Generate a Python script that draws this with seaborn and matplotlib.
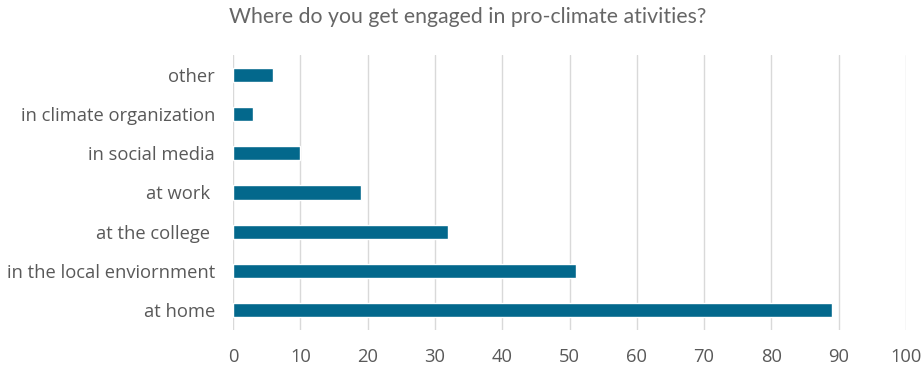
import matplotlib
matplotlib.use("Agg")
import matplotlib.pyplot as plt
import seaborn as sns
import pandas as pd

# Survey answers: where respondents take part in pro-climate activities
categories = [
    "other",
    "in climate organization",
    "in social media",
    "at work ",
    "at the college ",
    "in the local enviornment",
    "at home",
]
counts = [6, 3, 10, 19, 32, 51, 89]
x_ticks = [0, 10, 20, 30, 40, 50, 60, 70, 80, 90, 100]

df = pd.DataFrame({"place": categories, "count": counts})

sns.set_theme(style="white")
plt.rcParams["font.family"] = ["Open Sans", "DejaVu Sans"]

fig = plt.figure(figsize=(9.24, 3.66), dpi=100)
ax = fig.add_axes([0.2522, 0.0995, 0.7283, 0.7491])

sns.barplot(data=df, x="count", y="place", color="#03688C",
            width=0.36, saturation=1, ax=ax, zorder=3)

ax.set_xlim(0, 100)
ax.set_xticks(x_ticks)
ax.set_xticklabels([str(t) for t in x_ticks])
ax.xaxis.grid(True, color="#D9D9D9", linewidth=1.0, zorder=0)
ax.yaxis.grid(False)
for side in ["top", "right", "bottom", "left"]:
    ax.spines[side].set_visible(False)
ax.tick_params(axis="both", length=0, colors="#595959", labelsize=13.2)
ax.tick_params(axis="y", pad=13)
ax.tick_params(axis="x", pad=13)
ax.set_xlabel("")
ax.set_ylabel("")

fig.text(0.506, 0.953, "Where do you get engaged in pro-climate ativities?",
         ha="center", va="center", fontsize=15.3, color="#666666",
         family=["Lato", "DejaVu Sans"])

fig.savefig("out.png", dpi=100)
